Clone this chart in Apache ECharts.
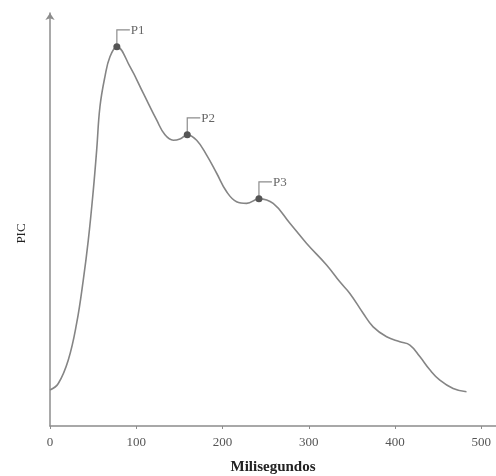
<!DOCTYPE html>
<html>
<head>
<meta charset="utf-8">
<script src="https://cdn.jsdelivr.net/npm/echarts@6/dist/echarts.min.js"></script>
<style>
  html, body { margin: 0; padding: 0; background: #fff; }
  #chart { width: 496px; height: 476px; }
</style>
</head>
<body>
<div id="chart"></div>
<script>
// curve: time (ms) and PIC (arbitrary units, 0..100)
var timeMs = [0, 9.6, 21.2, 30.9, 38.6, 44.4, 50.2, 54.1, 57.9, 63.7, 69.5, 77.5, 92.7, 108.1, 123.6, 133.3, 142.9, 150.6, 159.1, 170, 181.6, 193.2, 204.8, 216.3, 228, 242.2, 258.7, 278.1, 297.5, 320.6, 336, 347.6, 363, 374.6, 390.2, 405.6, 417.2, 428.7, 440.3, 451.9, 467.3, 482.8];
var picValues = [8.7, 10.3, 16.0, 24.9, 35.4, 45.0, 57.1, 66.8, 77.3, 84.6, 89.4, 91.8, 87.0, 80.6, 74.1, 70.5, 69.2, 69.5, 70.5, 69.2, 65.6, 61.2, 56.7, 54.3, 53.9, 55, 53.9, 49.1, 44.2, 39.0, 34.9, 32.1, 27.3, 24.0, 21.6, 20.4, 19.6, 16.8, 13.6, 11.1, 9.1, 8.3];

// peaks
var peakNames = ['P1', 'P2', 'P3'];
var peakTimes = [77.5, 159.1, 242.2];
var peakValues = [91.8, 70.5, 55];

var xTicks = [0, 100, 200, 300, 400, 500];

var font = '"Liberation Serif", "DejaVu Serif", serif';

var chart = echarts.init(document.getElementById('chart'));

var lineData = timeMs.map(function (t, i) { return [t, picValues[i]]; });
var peakData = peakNames.map(function (n, i) { return [peakTimes[i], peakValues[i], n]; });

var option = {
    animation: false,
    grid: { left: 50, right: 0, top: 13, bottom: 50, outerBoundsMode: 'none' },
    xAxis: {
        type: 'value',
        min: 0,
        max: 517,
        name: 'Milisegundos',
        nameLocation: 'middle',
        nameGap: 34,
        nameTextStyle: { fontFamily: font, fontWeight: 'bold', fontSize: 15, color: '#222' },
        axisLine: { lineStyle: { color: '#8c8c8c', width: 1.5 } },
        axisTick: { show: true, length: 3, customValues: xTicks, lineStyle: { color: '#8c8c8c' } },
        axisLabel: { customValues: xTicks, fontFamily: font, fontSize: 13, color: '#555', margin: 10 },
        splitLine: { show: false }
    },
    yAxis: {
        type: 'value',
        min: 0,
        max: 100,
        name: 'PIC',
        nameLocation: 'middle',
        nameGap: 22,
        nameRotate: 90,
        nameTextStyle: { fontFamily: font, fontSize: 13, color: '#222', padding: [0, 0, 0, -28] },
        axisLine: { show: true, symbol: ['none', 'arrow'], symbolSize: [7, 7], lineStyle: { color: '#8c8c8c', width: 1.5 } },
        axisTick: { show: false },
        axisLabel: { show: false },
        splitLine: { show: false }
    },
    series: [{
        type: 'line',
        data: lineData,
        smooth: 0.42,
        showSymbol: false,
        lineStyle: { color: '#858585', width: 1.6 }
    }, {
        type: 'custom',
        data: peakData,
        z: 5,
        renderItem: function (params, api) {
            var p = api.coord([api.value(0), api.value(1)]);
            var top = p[1] - 17;
            return {
                type: 'group',
                children: [{
                    type: 'polyline',
                    shape: { points: [[p[0], p[1]], [p[0], top], [p[0] + 13, top]] },
                    style: { stroke: '#8c8c8c', lineWidth: 1.2, fill: null }
                }, {
                    type: 'circle',
                    shape: { cx: p[0], cy: p[1], r: 3.5 },
                    style: { fill: '#555' }
                }, {
                    type: 'text',
                    x: p[0] + 14,
                    y: top + 1,
                    style: {
                        text: api.value(2),
                        font: '13px ' + font,
                        fill: '#666',
                        verticalAlign: 'middle'
                    }
                }]
            };
        }
    }]
};

chart.setOption(option);
</script>
</body>
</html>
